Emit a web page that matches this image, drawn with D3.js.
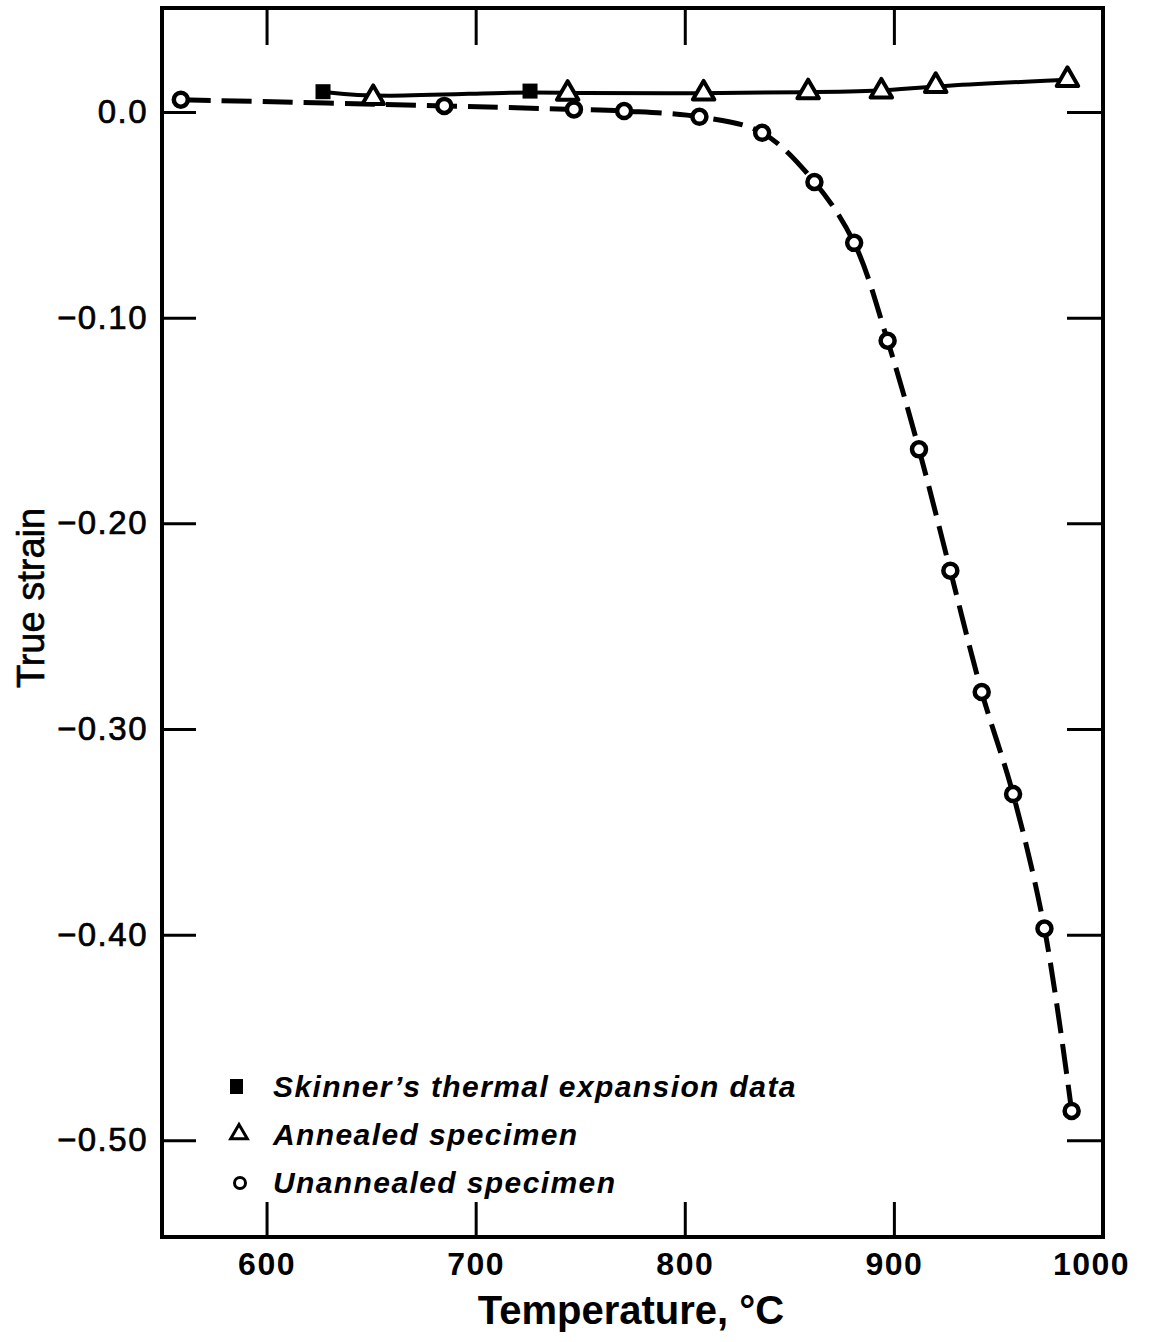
<!DOCTYPE html>
<html lang="en">
<head>
<meta charset="utf-8">
<style>
  body { margin: 0; background: #fff; }
  svg { display: block; font-family: "Liberation Sans", Arial, sans-serif; }
  .tick line { stroke: #000; stroke-width: 3; }
</style>
<script src="https://d3js.org/d3.v7.min.js"></script>
</head>
<body>
<svg width="1149" height="1342"></svg>
<script>
// values: temperature (°C) vs true strain
const skinnerT = [627, 726];
const skinnerStrain = [0.0099, 0.0102];

const annealedT = [651, 744, 809, 859, 894, 920, 983];
const annealedStrain = [0.0069, 0.009, 0.0091, 0.0097, 0.0101, 0.0128, 0.0157];

const unannealedT = [559, 685, 747, 771, 807, 837, 862, 881, 897, 912, 927, 942, 957, 972, 985];
const unannealedStrain = [0.006, 0.003, 0.0013, 0.0005, -0.0023, -0.0101, -0.034, -0.0636, -0.1112,
  -0.164, -0.223, -0.282, -0.3316, -0.397, -0.4857];

const xTicks = [600, 700, 800, 900, 1000];
const yTicks = [0, -0.1, -0.2, -0.3, -0.4, -0.5];
const yTickLabels = ["0.0", "\u22120.10", "\u22120.20", "\u22120.30", "\u22120.40", "\u22120.50"];
const legendLabels = ["Skinner\u2019s thermal expansion data", "Annealed specimen", "Unannealed specimen"];

const svg = d3.select("svg");
const plotLeft = 162, plotRight = 1103, plotTop = 8, plotBottom = 1237;

const x = d3.scaleLinear().domain([550, 1000]).range([plotLeft, plotRight]);
const y = d3.scaleLinear().domain([-0.547, 0.0506]).range([plotBottom, plotTop]);

// axes, ticks pointing inward on all four sides
const gx = svg.append("g")
  .attr("transform", "translate(0," + plotBottom + ")")
  .call(d3.axisBottom(x).tickValues(xTicks).tickSize(-35).tickPadding(15).tickFormat(d3.format("d")));
gx.selectAll("text")
  .attr("font-size", 32).attr("font-weight", "bold").attr("letter-spacing", 1.5)
  .attr("fill", "#000").attr("font-family", "Liberation Sans, Arial, sans-serif")
  .attr("dx", function (d) { return d === 1000 ? -12 : 0; });

svg.append("g")
  .attr("transform", "translate(0," + plotTop + ")")
  .call(d3.axisTop(x).tickValues(xTicks.slice(0, 4)).tickSize(-37).tickFormat(""));

const gy = svg.append("g")
  .attr("transform", "translate(" + plotLeft + ",0)")
  .call(d3.axisLeft(y).tickValues(yTicks).tickSize(-34).tickPadding(14)
    .tickFormat(function (d, i) { return yTickLabels[i]; }));
gy.selectAll("text")
  .attr("font-size", 33).attr("letter-spacing", 1.5)
  .attr("fill", "#000").attr("stroke", "#000").attr("stroke-width", 0.7)
  .attr("font-family", "Liberation Sans, Arial, sans-serif");

svg.append("g")
  .attr("transform", "translate(" + plotRight + ",0)")
  .call(d3.axisRight(y).tickValues(yTicks).tickSize(-36).tickFormat(""));

svg.selectAll(".domain").remove();

svg.append("rect")
  .attr("x", plotLeft).attr("y", plotTop)
  .attr("width", plotRight - plotLeft).attr("height", plotBottom - plotTop)
  .attr("fill", "none").attr("stroke", "#000").attr("stroke-width", 4);

// axis titles
svg.append("text")
  .attr("x", 631).attr("y", 1324)
  .attr("text-anchor", "middle")
  .attr("font-size", 40).attr("font-weight", "bold")
  .text("Temperature, \u00b0C");

svg.append("text")
  .attr("transform", "translate(44,598) rotate(-90)")
  .attr("text-anchor", "middle")
  .attr("font-size", 38)
  .attr("stroke", "#000").attr("stroke-width", 0.6)
  .text("True strain");

// solid line through Skinner's and annealed data
const solidPts = skinnerT.map(function (t, i) { return [t, skinnerStrain[i]]; })
  .concat(annealedT.map(function (t, i) { return [t, annealedStrain[i]]; }))
  .sort(function (a, b) { return a[0] - b[0]; });

const line = d3.line()
  .x(function (d) { return x(d[0]); })
  .y(function (d) { return y(d[1]); });

svg.append("path")
  .datum(solidPts)
  .attr("d", line.curve(d3.curveBasis))
  .attr("fill", "none").attr("stroke", "#000").attr("stroke-width", 4);

// dashed line through unannealed data
const dashPts = unannealedT.map(function (t, i) { return [t, unannealedStrain[i]]; });
svg.append("path")
  .datum(dashPts)
  .attr("d", line.curve(d3.curveCatmullRom.alpha(0.5)))
  .attr("fill", "none").attr("stroke", "#000").attr("stroke-width", 5)
  .attr("stroke-dasharray", "30,11");

// markers
const tri = d3.symbol(d3.symbolTriangle, 200);

svg.selectAll(".sq")
  .data(skinnerT)
  .enter().append("rect")
  .attr("class", "sq")
  .attr("x", function (d) { return x(d) - 7.5; })
  .attr("y", function (d, i) { return y(skinnerStrain[i]) - 7.5; })
  .attr("width", 15).attr("height", 15)
  .attr("fill", "#000");

svg.selectAll(".tri")
  .data(annealedT)
  .enter().append("path")
  .attr("class", "tri")
  .attr("d", tri)
  .attr("transform", function (d, i) { return "translate(" + x(d) + "," + y(annealedStrain[i]) + ")"; })
  .attr("fill", "#fff").attr("stroke", "#000").attr("stroke-width", 4)
  .attr("stroke-linejoin", "round");

svg.selectAll(".circ")
  .data(unannealedT)
  .enter().append("circle")
  .attr("class", "circ")
  .attr("cx", function (d) { return x(d); })
  .attr("cy", function (d, i) { return y(unannealedStrain[i]); })
  .attr("r", 7)
  .attr("fill", "#fff").attr("stroke", "#000").attr("stroke-width", 4.5);

// legend
const legend = svg.append("g").attr("transform", "translate(236,1097)");
const rowGap = 48;

legend.append("rect")
  .attr("x", -6).attr("y", -18).attr("width", 13).attr("height", 15)
  .attr("fill", "#000");
legend.append("path")
  .attr("d", d3.symbol(d3.symbolTriangle, 120))
  .attr("transform", "translate(3," + (rowGap - 11) + ")")
  .attr("fill", "#fff").attr("stroke", "#000").attr("stroke-width", 3);
legend.append("circle")
  .attr("cx", 4).attr("cy", 2 * rowGap - 10).attr("r", 5.5)
  .attr("fill", "#fff").attr("stroke", "#000").attr("stroke-width", 3);

legend.selectAll(".lbl")
  .data(legendLabels)
  .enter().append("text")
  .attr("class", "lbl")
  .attr("x", 37)
  .attr("y", function (d, i) { return i * rowGap; })
  .attr("font-size", 30).attr("font-weight", "bold").attr("font-style", "italic")
  .attr("letter-spacing", 1.4)
  .text(function (d) { return d; });
</script>
</body>
</html>
